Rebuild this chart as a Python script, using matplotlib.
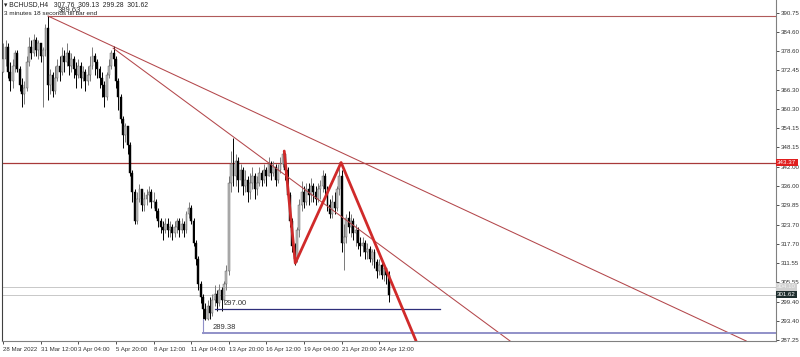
import matplotlib
matplotlib.use('Agg')
import matplotlib.pyplot as plt
from matplotlib import font_manager

# ---------------- data (BCHUSD, H4) ----------------
first_open = 372.0
closes = [376, 380, 372, 369, 374, 378, 373, 368, 365, 367,
          375, 380, 378, 382, 379, 381, 377, 379, 386, 368,
          371, 366, 370, 374, 372, 377, 375, 378, 374, 376,
          373, 371, 374, 370, 372, 369, 371, 374, 377, 375,
          373, 370, 368, 364, 371, 374, 378, 376, 369, 364,
          357, 352, 355, 349, 340, 334, 325, 332, 335, 330,
          332, 333, 334, 331, 331, 328, 325, 323, 322, 324,
          322, 323, 321, 323, 325, 322, 324, 322, 327, 329,
          325, 318, 313, 305, 301, 297, 293.8, 298, 296, 300,
          302, 299, 303, 300, 305, 309, 337, 343, 339, 344,
          338, 341, 336, 338, 334, 337, 339, 335, 337, 340,
          338, 341, 339, 343, 340, 342, 338, 341, 343, 346,
          341, 333, 325, 317, 313, 322, 330, 334, 331, 335,
          333, 336, 334, 332, 335, 336, 339, 335, 330, 327,
          331, 329, 335, 339, 318, 320, 326, 323, 325, 321,
          322, 318, 317, 318, 315, 316, 313, 315, 312, 309,
          311, 308, 310, 307.76, 301.62]
highs = [381, 382, 381, 375, 376, 379, 379, 374, 370, 369,
         377, 383, 382, 384, 383, 382, 381, 380, 387, 389.6,
         373, 372, 374, 376, 377, 380, 379, 381, 379, 378,
         377, 375, 376, 375, 374, 373, 374, 377, 380, 378,
         376, 374, 372, 369, 372, 376, 379, 380.2, 377, 370,
         365, 358, 356, 355, 350, 341, 335, 334, 336.5, 335,
         334, 335, 336, 335, 334, 332, 329, 326, 325, 326,
         326, 325, 324, 325, 326, 326, 326, 325, 328, 331,
         330, 326, 319, 314, 306, 302, 299, 300, 301, 302,
         304.6, 303, 305, 304, 306, 311, 339, 347, 351.2, 346,
         345, 343, 342, 341, 339, 340, 342, 340, 339, 342,
         341, 343, 342, 345, 344, 344, 343, 343, 345, 346.8,
         346.5, 342, 334, 326, 318, 323, 332, 337.5, 336, 337,
         337, 338.4, 337, 336, 337, 338, 341, 340, 336, 332,
         333, 334, 336, 343.4, 341, 324, 327, 328, 327, 326,
         324, 323, 320, 320, 319, 318, 317, 316, 316, 313,
         313, 312, 311, 310, 309.13]
lows = [372, 374, 370, 366, 367, 372, 372, 366, 361, 362,
        366, 374, 376, 377, 377, 376, 375, 361, 377, 363,
        365, 364, 365, 369, 369, 371, 372, 374, 371, 372,
        370, 367, 370, 367, 369, 366, 368, 369, 373, 371,
        370, 367, 364, 361, 363, 370, 373, 374, 367, 360,
        356, 348, 350, 346, 339, 331, 324, 324, 331, 328,
        328, 330, 331, 329, 329, 326, 323, 321, 319, 321,
        320, 320, 319, 320, 321, 320, 321, 320, 321, 326,
        324, 317, 311, 303, 299, 294, 293.5, 293.6, 294, 295,
        298, 296.5, 298, 296.5, 299, 303, 308, 334, 336, 336,
        334, 336, 333, 334, 331, 332, 335, 332, 333, 336,
        336, 337, 336, 339, 338, 339, 336, 337, 340, 342,
        338, 332, 323, 315, 311, 312, 320, 328, 329, 330,
        330, 331, 331, 330, 331, 332, 334, 333, 328, 325.7,
        326, 327, 328, 333, 315, 309.4, 318, 321, 320, 319,
        317, 316, 314, 315, 313, 313, 312, 311, 310, 307,
        308, 306.5, 306, 305, 299.28]

x_tick_bars = [0, 16, 32, 48, 64, 80, 96, 112, 128, 144, 160]
x_tick_labels = ['28 Mar 2022', '31 Mar 12:00', '3 Apr 04:00', '5 Apr 20:00',
                 '8 Apr 12:00', '11 Apr 04:00', '13 Apr 20:00', '16 Apr 12:00',
                 '19 Apr 04:00', '21 Apr 20:00', '24 Apr 12:00']
y_ticks = [390.75, 384.60, 378.60, 372.45, 366.30, 360.30, 354.15, 348.15,
           342.00, 336.00, 329.85, 323.70, 317.70, 311.55, 305.55, 299.40,
           293.40, 287.25]

# drawn objects (time in bars, price)
top_level = 389.63
top_level_start = 19
resist_level = 343.37
bid_price = 301.62
ask_price = 304.10
trend_b_x = [19.1, 316.2]
trend_b_y = [389.63, 287.0]
trend_c_x = [46.8, 215.7]
trend_c_y = [379.5, 287.0]
zigzag_x = [119.6, 124.3, 143.8, 175.7]
zigzag_y = [347.0, 311.6, 343.37, 287.0]
lvl297 = 297.00
lvl297_x = [90.1, 186.0]
lvl289 = 289.38
lvl289_x = [85.0, 330.0]
lvl289_vert_top = 294.0

# ---------------- fonts ----------------
_names = {f.name for f in font_manager.fontManager.ttflist}
FONT = 'Liberation Sans Narrow' if 'Liberation Sans Narrow' in _names else 'Liberation Sans'
plt.rcParams['font.family'] = [FONT, 'DejaVu Sans']
narrow = FONT == 'Liberation Sans Narrow'
FS_TICK = 5.1 if narrow else 4.4
FS_TXT = 5.6 if narrow else 4.9

# ---------------- figure ----------------
W, H = 800, 357
fig = plt.figure(figsize=(W / 100, H / 100), dpi=100)
fig.patch.set_facecolor('white')
ax = fig.add_axes([2 / W, 16 / H, 774 / W, 341 / H])
ax.set_facecolor('white')

n = len(closes)
opens = [first_open] + closes[:-1]
idx = list(range(n))
xlim = (-0.5, -0.5 + 774 / 2.35)
ax.set_xlim(*xlim)
ax.set_ylim(287.0, 394.7)

# horizontal lines (behind candles)
ax.axhline(ask_price, color='#c8c8c8', lw=0.7, zorder=1)
ax.axhline(bid_price, color='#c8c8c8', lw=0.7, zorder=1)
ax.axhline(resist_level, color='#a83a3a', lw=0.9, zorder=1)
ax.plot([top_level_start, xlim[1]], [top_level, top_level], color='#b05a5a', lw=0.8, zorder=1)

# candles
bull_c = '#bdbdbd'
for i in idx:
    o, c, h, l = opens[i], closes[i], highs[i], lows[i]
    bull = c >= o
    ax.vlines(i, l, h, color='#7a7a7a' if bull else '#000000', lw=0.7, zorder=2)
    b = min(o, c)
    ht = max(abs(c - o), 0.35)
    ax.bar(i, ht, bottom=b, width=0.8,
           color=bull_c if bull else '#000000',
           edgecolor='#555555' if bull else '#000000', linewidth=0.3, zorder=3)

# trend lines
ax.plot(trend_b_x, trend_b_y, color='#b3474b', lw=0.75, zorder=4)
ax.plot(trend_c_x, trend_c_y, color='#b3474b', lw=0.75, zorder=4)
ax.plot(zigzag_x, zigzag_y, color='#d02a2a', lw=2.0, zorder=5, solid_capstyle='round')

# level markers
ax.plot(lvl297_x, [lvl297, lvl297], color='#2e2e7a', lw=0.9, zorder=4)
ax.plot(lvl289_x, [lvl289, lvl289], color='#9090c8', lw=1.4, zorder=4)
ax.plot([lvl289_x[0], lvl289_x[0]], [lvl289, lvl289_vert_top], color='#9090c8', lw=0.8, zorder=4)
ax.text(lvl297_x[0] + 3.8, lvl297 + 2.0, f'{lvl297:.2f}', fontsize=FS_TXT + 0.6, color='#333333',
        va='center', ha='left', zorder=6)
ax.text(lvl289_x[0] + 4.0, lvl289 + 1.8, f'{lvl289:.2f}', fontsize=FS_TXT + 0.6, color='#333333',
        va='center', ha='left', zorder=6)
ax.text(top_level_start + 4.3, top_level + 0.6, f'{top_level:.2f}', fontsize=FS_TXT + 0.6,
        color='#333333', va='bottom', ha='left', zorder=6)

# axes styling
ax.spines['top'].set_visible(False)
ax.spines['left'].set_color('#404040')
ax.spines['left'].set_linewidth(0.8)
ax.spines['right'].set_color('#808080')
ax.spines['right'].set_linewidth(0.8)
ax.spines['bottom'].set_color('#808080')
ax.spines['bottom'].set_linewidth(0.8)

ax.yaxis.tick_right()
ax.set_yticks(y_ticks)
ax.set_yticklabels([f'{v:.2f}' for v in y_ticks])
ax.tick_params(axis='y', which='both', length=2.0, width=0.6, pad=1.2,
               labelsize=FS_TICK, colors='#333333')
ax.set_xticks(x_tick_bars)
ax.set_xticklabels(x_tick_labels)
ax.tick_params(axis='x', length=2.5, width=0.6, pad=1.8, labelsize=FS_TICK, colors='#333333')
for lab in ax.get_xticklabels():
    lab.set_ha('left')

# price boxes on right axis
trans = ax.get_yaxis_transform()
box_kw = dict(transform=trans, fontsize=FS_TICK, va='center', ha='left', clip_on=False, zorder=10)
ax.text(1.0015, resist_level, f'{resist_level:.2f}', color='white',
        bbox=dict(boxstyle='square,pad=0.2', fc='#e01e1e', ec='none'), **box_kw)
ax.text(1.0015, ask_price, f'{ask_price:.2f}', color='#f4f4f4',
        bbox=dict(boxstyle='square,pad=0.2', fc='#d0d0d0', ec='none'), **box_kw)
ax.text(1.0015, bid_price, f'{bid_price:.2f}', color='white',
        bbox=dict(boxstyle='square,pad=0.2', fc='#1e2e2e', ec='none'), **box_kw)

# header texts
fig.text(4 / W, 1 - 4.5 / H, '\u25be BCHUSD,H4   307.76  309.13  299.28  301.62',
         fontsize=FS_TXT, color='#222222', va='center', ha='left')
fig.text(4 / W, 1 - 13.5 / H, '3 minutes 18 seconds till bar end',
         fontsize=FS_TXT - 0.3, color='#222222', va='center', ha='left')

fig.savefig('out.png', dpi=100, facecolor='white')
